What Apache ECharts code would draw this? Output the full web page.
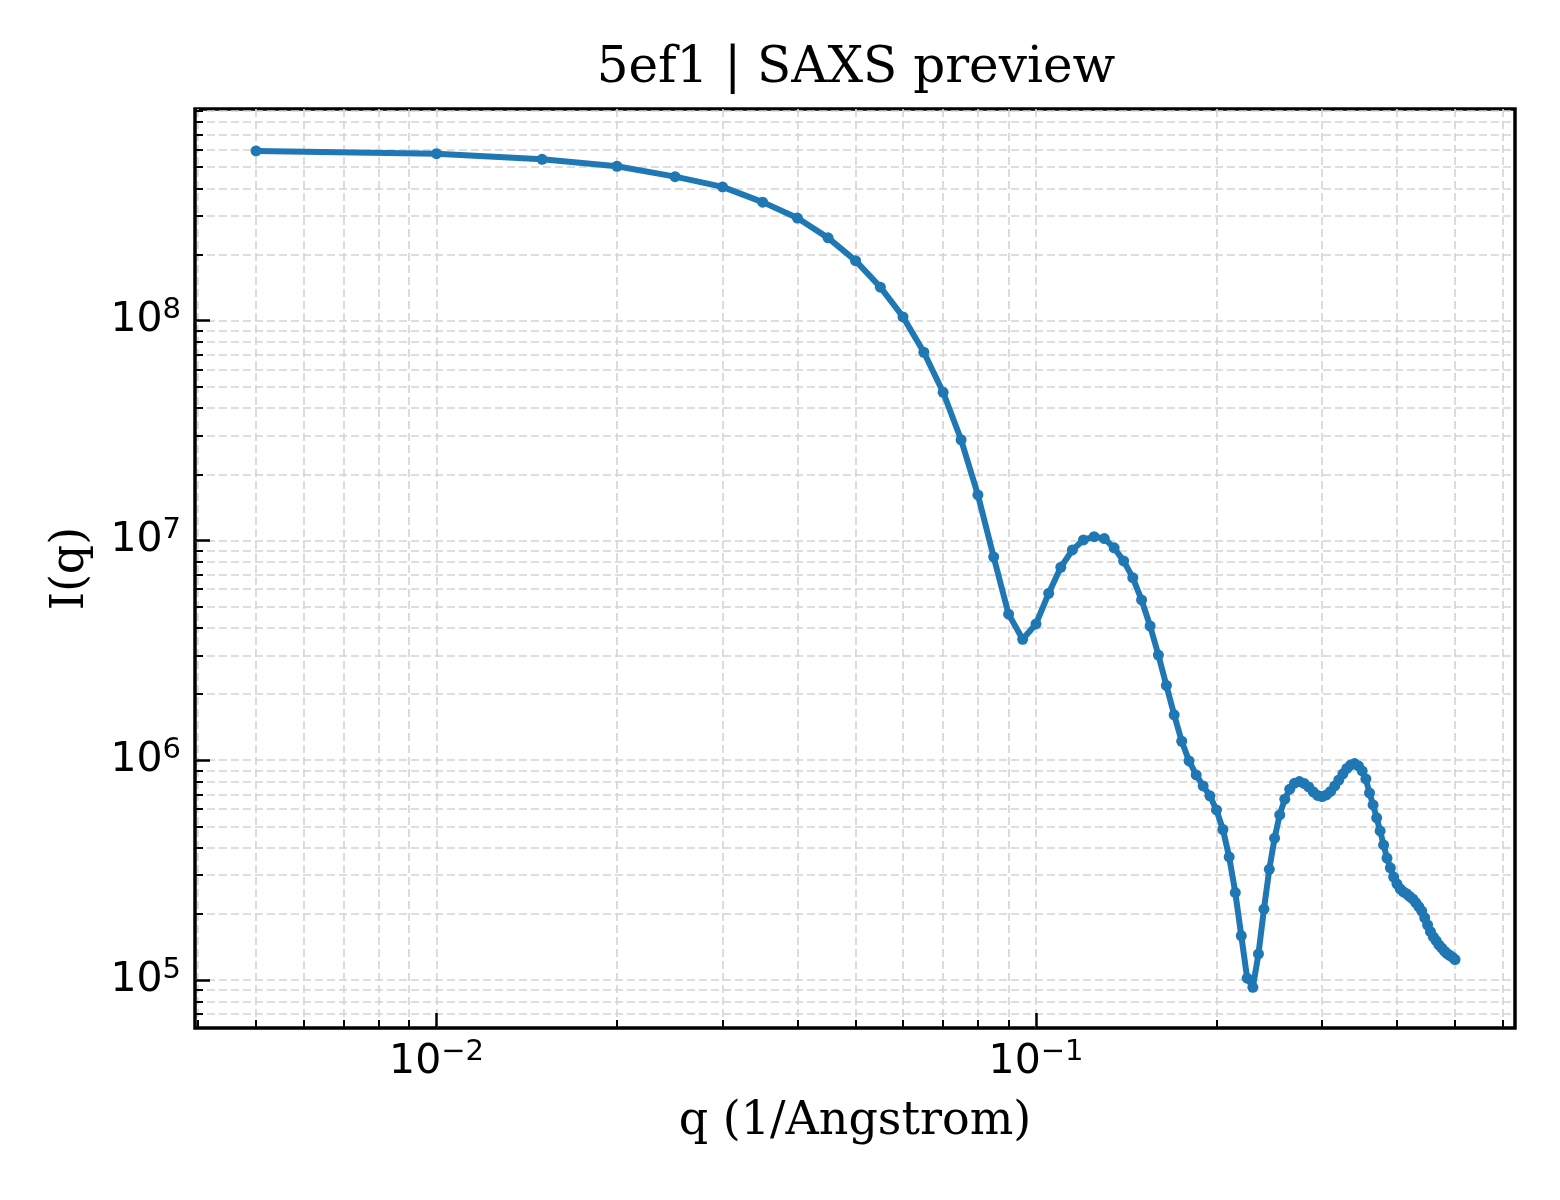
<!DOCTYPE html>
<html lang="en">
<head>
  <meta charset="UTF-8">
  <title>5ef1 | SAXS preview</title>
  <script src="https://cdn.jsdelivr.net/npm/echarts@6/dist/echarts.min.js"></script>
  <style>
    html, body { margin: 0; padding: 0; background: #fff; }
    #chart { width: 1560px; height: 1200px; }
  </style>
</head>
<body>
<div id="chart"></div>
<script>
  // q in 1/Angstrom
  const qValues = [
    0.005, 0.010, 0.015, 0.020, 0.025, 0.030, 0.035, 0.040, 0.045, 0.050,
    0.055, 0.060, 0.065, 0.070, 0.075, 0.080, 0.085, 0.090, 0.095, 0.100,
    0.105, 0.110, 0.115, 0.120, 0.125, 0.130, 0.135, 0.140, 0.145, 0.150,
    0.155, 0.160, 0.165, 0.170, 0.175, 0.180, 0.185, 0.190, 0.195, 0.200,
    0.205, 0.210, 0.215, 0.220, 0.225, 0.230, 0.235, 0.240, 0.245, 0.250,
    0.255, 0.260, 0.265, 0.270, 0.275, 0.280, 0.285, 0.290, 0.295, 0.300,
    0.305, 0.310, 0.315, 0.320, 0.325, 0.330, 0.335, 0.340, 0.345, 0.350,
    0.355, 0.360, 0.365, 0.370, 0.375, 0.380, 0.385, 0.390, 0.395, 0.400,
    0.405, 0.410, 0.415, 0.420, 0.425, 0.430, 0.435, 0.440, 0.445, 0.450,
    0.455, 0.460, 0.465, 0.470, 0.475, 0.480, 0.485, 0.490, 0.495, 0.500
  ];
  const intensity = [
    5.92e8, 5.75e8, 5.42e8, 5.04e8, 4.52e8, 4.06e8, 3.46e8, 2.93e8, 2.38e8, 1.875e8,
    1.42e8, 1.04e8, 7.18e7, 4.72e7, 2.87e7, 1.61e7, 8.41e6, 4.62e6, 3.55e6, 4.17e6,
    5.75e6, 7.55e6, 9.05e6, 1.005e7, 1.04e7, 1.02e7, 9.25e6, 8.07e6, 6.77e6, 5.36e6,
    4.08e6, 3.01e6, 2.19e6, 1.61e6, 1.22e6, 9.93e5, 8.57e5, 7.64e5, 6.89e5, 5.94e5,
    4.84e5, 3.63e5, 2.50e5, 1.59e5, 1.02e5, 9.27e4, 1.315e5, 2.10e5, 3.19e5, 4.42e5,
    5.64e5, 6.65e5, 7.38e5, 7.86e5, 8.00e5, 7.84e5, 7.56e5, 7.18e5, 6.92e5, 6.83e5,
    6.95e5, 7.21e5, 7.64e5, 8.13e5, 8.67e5, 9.18e5, 9.52e5, 9.66e5, 9.42e5, 8.94e5,
    8.22e5, 7.10e5, 6.26e5, 5.47e5, 4.77e5, 4.12e5, 3.59e5, 3.24e5, 2.94e5, 2.74e5,
    2.60e5, 2.52e5, 2.47e5, 2.40e5, 2.34e5, 2.25e5, 2.16e5, 2.06e5, 1.92e5, 1.78e5,
    1.66e5, 1.57e5, 1.51e5, 1.445e5, 1.40e5, 1.355e5, 1.32e5, 1.295e5, 1.27e5, 1.24e5
  ];

  const xMajorTicks = [0.01, 0.1];
  const xMinorTicks = [0.004, 0.005, 0.006, 0.007, 0.008, 0.009,
    0.02, 0.03, 0.04, 0.05, 0.06, 0.07, 0.08, 0.09,
    0.2, 0.3, 0.4, 0.5, 0.6];
  const yMajorTicks = [1e5, 1e6, 1e7, 1e8];
  const yMinorTicks = [7e4, 8e4, 9e4,
    2e5, 3e5, 4e5, 5e5, 6e5, 7e5, 8e5, 9e5,
    2e6, 3e6, 4e6, 5e6, 6e6, 7e6, 8e6, 9e6,
    2e7, 3e7, 4e7, 5e7, 6e7, 7e7, 8e7, 9e7,
    2e8, 3e8, 4e8, 5e8, 6e8, 7e8, 8e8, 9e8];
  const xRange = [0.003955, 0.6295];
  const yRange = [6.05e4, 9.18e8];

  const seriesData = qValues.map((q, i) => [q, intensity[i]]);

  function powLabel(v) {
    const e = Math.round(Math.log10(v));
    return '{b|10}{s|' + (e < 0 ? '\u2212' + (-e) : e) + '}';
  }
  const labelRich = {
    b: { fontFamily: 'DejaVu Sans', fontSize: 41, color: '#000' },
    s: { fontFamily: 'DejaVu Sans', fontSize: 29, color: '#000', padding: [0, 0, 20, 0] }
  };
  const gridLine = { show: true, lineStyle: { color: '#d4d4d4', width: 1.6, type: [8, 4] } };

  function majorAxis(range, ticks, extra) {
    return Object.assign({
      type: 'log',
      min: range[0],
      max: range[1],
      axisLine: { show: false },
      axisTick: { show: true, inside: true, length: 15, customValues: ticks,
        lineStyle: { color: '#000', width: 2.5 } },
      axisLabel: { show: true, customValues: ticks, formatter: powLabel, rich: labelRich },
      splitLine: gridLine,
      minorTick: { show: false },
      minorSplitLine: { show: false }
    }, extra);
  }
  function minorAxis(range, ticks, extra) {
    return Object.assign({
      type: 'log',
      min: range[0],
      max: range[1],
      axisLine: { show: false },
      axisTick: { show: true, inside: true, length: 8, customValues: ticks,
        lineStyle: { color: '#000', width: 2 } },
      axisLabel: { show: false },
      splitLine: gridLine
    }, extra);
  }

  const chart = echarts.init(document.getElementById('chart'));
  chart.setOption({
    animation: false,
    backgroundColor: '#fff',
    title: {
      text: '5ef1 | SAXS preview',
      left: 851,
      textAlign: 'center',
      top: 39,
      textStyle: { fontFamily: 'DejaVu Serif', fontSize: 50, fontWeight: 'normal', color: '#000' }
    },
    grid: {
      left: 195, right: 45, top: 109, bottom: 172,
      show: true, borderColor: '#000', borderWidth: 3.5, backgroundColor: 'transparent'
    },
    xAxis: [
      majorAxis(xRange, xMajorTicks, {
        position: 'bottom',
        name: 'q (1/Angstrom)',
        nameLocation: 'middle',
        nameGap: 71,
        nameTextStyle: { fontFamily: 'DejaVu Serif', fontSize: 46, color: '#000' },
        axisLabel: { show: true, customValues: xMajorTicks, formatter: powLabel, rich: labelRich, margin: 10 }
      }),
      minorAxis(xRange, xMinorTicks, { position: 'bottom' })
    ],
    yAxis: [
      majorAxis(yRange, yMajorTicks, {
        position: 'left',
        name: 'I(q)',
        nameLocation: 'middle',
        nameRotate: 90,
        nameGap: 101,
        nameTextStyle: { fontFamily: 'DejaVu Serif', fontSize: 46, color: '#000' },
        axisLabel: { show: true, customValues: yMajorTicks, formatter: powLabel, rich: labelRich, margin: 14 }
      }),
      minorAxis(yRange, yMinorTicks, { position: 'left' })
    ],
    series: [{
      type: 'line',
      xAxisIndex: 0,
      yAxisIndex: 0,
      data: seriesData,
      symbol: 'circle',
      symbolSize: 11,
      showSymbol: true,
      color: '#1f77b4',
      lineStyle: { width: 6, color: '#1f77b4' },
      itemStyle: { color: '#1f77b4' },
      z: 5
    }]
  });
</script>
</body>
</html>
